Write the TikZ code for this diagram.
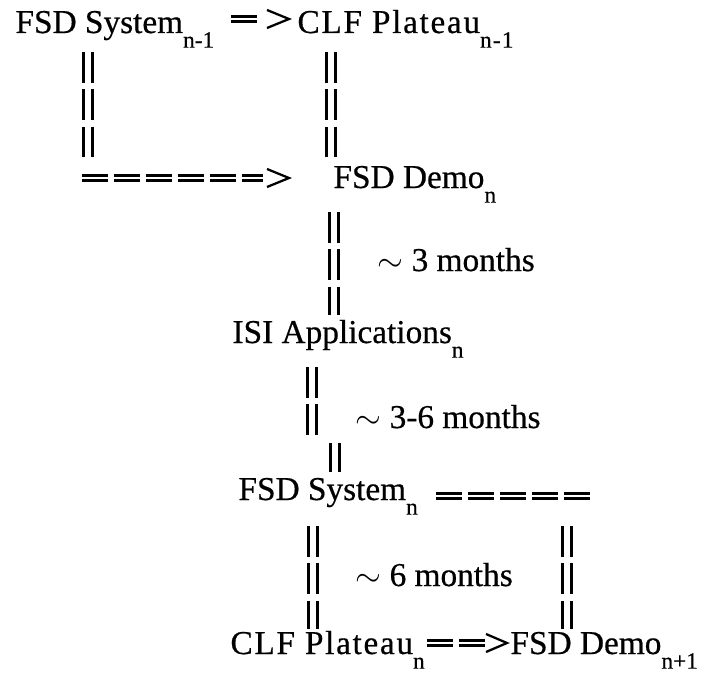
\documentclass[tikz,border=0pt]{standalone}
\usepackage{fontspec}
\setmainfont{Liberation Serif}
\newfontfamily\scanfont{Liberation Serif}[FakeBold=0.5]
\usetikzlibrary{calc}
\newcommand{\lowsub}[1]{\raisebox{-11pt}{\fontsize{17.5pt}{17.5pt}\selectfont #1}}
\tikzset{every picture/.style={line width=0.75pt}}
\tikzset{
  lbl/.style={anchor=base west, inner sep=0pt, font=\scanfont\fontsize{25pt}{30pt}\selectfont},
  lblwide/.style={lbl, font=\scanfont\fontsize{25pt}{30pt}\selectfont\addfontfeatures{LetterSpace=5}},
  barlink/.style={double, line width=2.4pt, double distance=4pt, dash pattern=on 23pt off 5pt},
  eqlink/.style={double, line width=1.8pt, double distance=2pt, dash pattern=on 19.5pt off 4.5pt},
  gtmark/.style={line width=1.7pt, line join=miter}
}
\begin{document}
\begin{tikzpicture}[x=0.75pt,y=0.75pt,yscale=-1,xscale=1]
	\useasboundingbox (0,0) rectangle (713,674);
	
	% Text Node
	\draw (15,33) node [lbl] (sysA) {FSD System\lowsub{n-1}};
	% Text Node
	\draw (297,33) node [lblwide] (clfA) {CLF Plateau\lowsub{n-1}};
	% Text Node
	\draw (333,188) node [lbl] (demoA) {FSD Demo\lowsub{n}};
	% Text Node
	\draw (232,343) node [lbl] (isi) {ISI Applications\lowsub{n}};
	% Text Node
	\draw (238,500) node [lbl] (sysB) {FSD System\lowsub{n}};
	% Text Node
	\draw (230,654) node [lblwide] (clfB) {CLF Plateau\lowsub{n}};
	% Text Node
	\draw (510,654) node [lbl] (demoB) {FSD Demo\lowsub{n+1}};
	% Text Node
	\draw (377,271) node [lbl] (durA) {$\sim$ 3 months};
	% Text Node
	\draw (355,428) node [lbl] (durB) {$\sim$ 3-6 months};
	% Text Node
	\draw (355,586) node [lbl] (durC) {$\sim$ 6 months};
	
	\coordinate (tipA) at ($(clfA.base west)+(-8,-14)$);
	\coordinate (tipB) at ($(demoA.base west)+(-44,-10)$);
	\coordinate (tipE) at ($(demoB.base west)+(-3,-11)$);
	\coordinate (bendD) at ($(demoB.base west)+(80,-158)$);
	
	%Straight Lines sysA => clfA
	\draw [eqlink] ($(tipA)+(-58,0)$) -- ($(tipA)+(-32,0)$) ;
	\draw [gtmark] (tipA) ++(-22,-9) -- (tipA) -- ++(-22,9) ;
	%Straight Lines sysA || ====> demoA
	\draw [barlink] ($(sysA.base west)+(73,19)$) -- ($(sysA.base west)+(73,126)$) ;
	\draw [eqlink] ($(sysA.base west)+(67,145)$) -- ($(tipB)+(-26,0)$) ;
	\draw [gtmark] (tipB) ++(-22,-9) -- (tipB) -- ++(-22,9) ;
	%Straight Lines clfA || demoA
	\draw [barlink] ($(clfA.base west)+(34,19)$) -- ($(clfA.base west)+(34,126)$) ;
	%Straight Lines demoA || isi
	\draw [barlink] ($(demoA.base west)+(1,24)$) -- ($(isi.base west)+(102,-28)$) ;
	%Straight Lines isi || sysB
	\draw [barlink] ($(isi.base west)+(80,24)$) -- ($(isi.base west)+(80,96)$) ;
	\draw [barlink] ($(sysB.base west)+(97,-57)$) -- ($(sysB.base west)+(97,-28)$) ;
	%Straight Lines sysB || clfB
	\draw [barlink] ($(sysB.base west)+(75,26)$) -- ($(clfB.base west)+(83,-25)$) ;
	%Straight Lines sysB ===== || demoB
	\draw [eqlink] ($(bendD)+(-154,0)$) -- (bendD) ;
	\draw [barlink] ($(bendD)+(-23,30)$) -- ($(demoB.base west)+(57,-25)$) ;
	%Straight Lines clfB ==> demoB
	\draw [eqlink] ($(tipE)+(-80,0)$) -- ($(tipE)+(-22,0)$) ;
	\draw [gtmark] (tipE) ++(-21,-9) -- (tipE) -- ++(-21,9) ;
	
\end{tikzpicture}
\end{document}
